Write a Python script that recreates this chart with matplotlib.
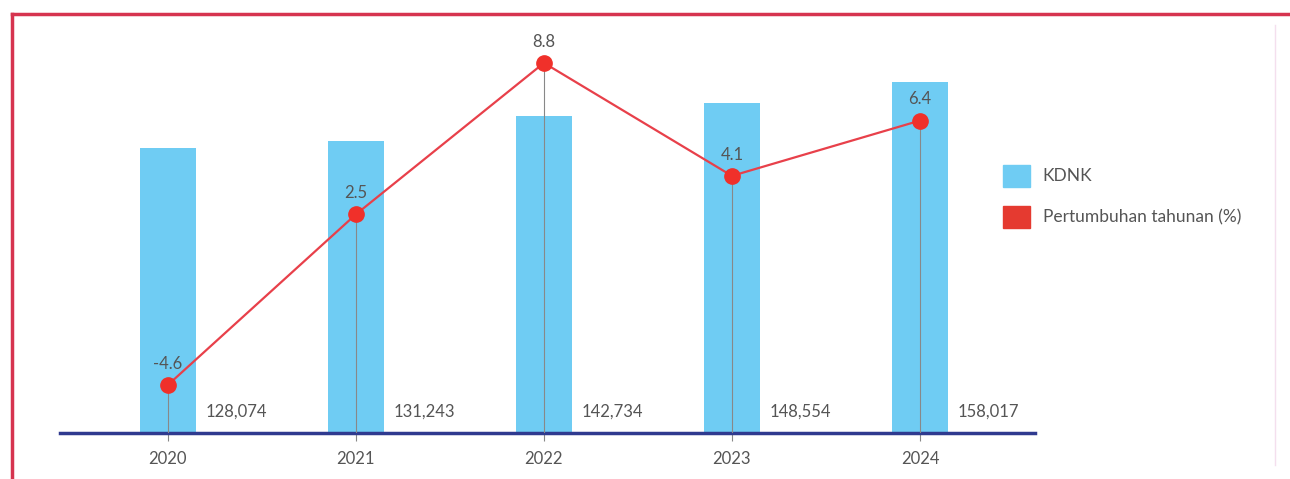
import matplotlib.pyplot as plt
from matplotlib.patches import Patch
from matplotlib.lines import Line2D

years = ['2020', '2021', '2022', '2023', '2024']
kdnk = [128074, 131243, 142734, 148554, 158017]
growth = [-4.6, 2.5, 8.8, 4.1, 6.4]

bar_color = '#6fccf3'
line_color = '#e8404a'
dot_color = '#f0302a'
text_color = '#555555'

plt.rcParams['font.family'] = ['Lato', 'DejaVu Sans']

fig = plt.figure(figsize=(12.9, 4.79), dpi=100)
ax = fig.add_axes([60 / 1290, 46 / 479, 975 / 1290, 403 / 479])

x = list(range(len(years)))
ax.bar(x, kdnk, width=0.30, color=bar_color, zorder=1)
ax.set_xlim(-0.574, 4.612)
ax.set_ylim(0, 181350)

for i, v in enumerate(kdnk):
    ax.text(i + 0.2, 6000, f'{v:,}', ha='left', va='bottom',
            fontsize=12, color=text_color)

# growth line on its own scale
ax2 = ax.twinx()
ax2.set_ylim(-6.6, 10.17)
ax2.vlines(x, -6.6, growth, color='#888888', lw=0.8, zorder=2)
ax2.plot(x, growth, color=line_color, lw=1.6, marker='o', ms=11,
         mfc=dot_color, mec=dot_color, zorder=3)
for i, g in enumerate(growth):
    ax2.text(i, g + 0.55, f'{g}', ha='center', va='bottom',
             fontsize=12, color=text_color)

for a in (ax, ax2):
    for s in a.spines.values():
        s.set_visible(False)
    a.set_yticks([])

ax.spines['bottom'].set_visible(True)
ax.spines['bottom'].set_color('#2f3a8f')
ax.spines['bottom'].set_linewidth(2.5)
ax.set_xticks(x)
ax.set_xticklabels(years, fontsize=12, color=text_color)
ax.tick_params(axis='x', length=6, color='#888888', width=0.8, pad=7)

handles = [Patch(color=bar_color, label='KDNK'),
           Patch(color='#e53a30', label='Pertumbuhan tahunan (%)')]
fig.legend(handles=handles, loc='upper left', bbox_to_anchor=(987 / 1290, 1 - 149 / 479),
           frameon=False, fontsize=12.5, handlelength=1.6, handleheight=1.6,
           labelspacing=1.1, handletextpad=0.7, labelcolor=text_color)

# red frame along top and left
fig.add_artist(Line2D([12 / 1290, 1], [1 - 14 / 479, 1 - 14 / 479],
                      color='#d6344f', lw=2.5, transform=fig.transFigure))
fig.add_artist(Line2D([12 / 1290, 12 / 1290], [0, 1 - 14 / 479],
                      color='#d6344f', lw=2.5, transform=fig.transFigure))
fig.add_artist(Line2D([1275 / 1290, 1275 / 1290], [0.03, 1 - 25 / 479],
                      color='#f4dfee', lw=1.0, transform=fig.transFigure))

fig.savefig('out.png', dpi=100)
